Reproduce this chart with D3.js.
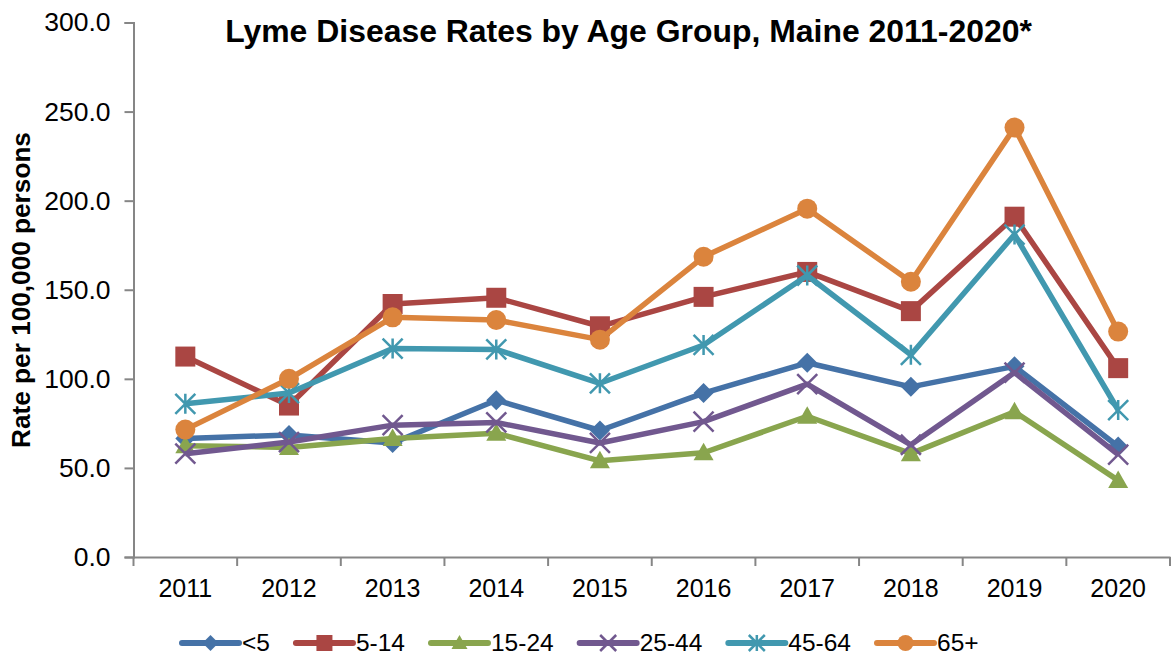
<!DOCTYPE html>
<html><head><meta charset="utf-8">
<script src="https://cdn.jsdelivr.net/npm/d3@7"></script>
<style>
body{margin:0;background:#fff;}
svg{display:block;font-family:"Liberation Sans",Arial,sans-serif;}
</style></head>
<body><svg id="c" width="1173" height="656"></svg>
<script>
const years = ["2011","2012","2013","2014","2015","2016","2017","2018","2019","2020"];
const seriesNames = ["<5","5-14","15-24","25-44","45-64","65+"];
const ageLt5 = [66.5, 68.5, 64, 88, 71, 92, 109, 95.5, 107, 62];
const age5to14 = [112.5, 85, 142, 145.5, 129.5, 146, 160, 138, 191, 106];
const age15to24 = [62.5, 61.5, 66.5, 69.5, 54, 58.5, 79, 58, 81.5, 43];
const age25to44 = [58, 64.5, 74, 75.5, 64, 76, 97, 63, 103.5, 57.5];
const age45to64 = [86, 92, 117, 116.5, 97.5, 119, 158, 113.5, 181, 82.5];
const age65plus = [71.5, 100, 134.5, 133, 122, 168.5, 195.5, 154.5, 241, 126.5];
const yTicks = [0, 50, 100, 150, 200, 250, 300];

const colors = ["#4572A7","#AA4643","#89A54E","#71588F","#4198AF","#DB843D"];
const markers = ["diamond","square","triangle","x","asterisk","circle"];
const seriesValues = [ageLt5, age5to14, age15to24, age25to44, age45to64, age65plus];

const svg = d3.select("#c");
const x = d3.scaleBand().domain(years).range([133.5, 1170]).padding(0);
const y = d3.scaleLinear().domain([0, 300]).range([557, 22.5]);
const axisColor = "#868686";

// Y axis
const ya = svg.append("g").attr("transform","translate(133.5,0)")
  .call(d3.axisLeft(y).tickValues(yTicks).tickFormat(d3.format(".1f")).tickSize(9).tickPadding(14));
ya.select(".domain").attr("stroke",axisColor).attr("stroke-width",2);
ya.selectAll(".tick line").attr("stroke",axisColor).attr("stroke-width",2);
ya.selectAll(".tick text").attr("font-size","26.5px").attr("fill","#000")
  .attr("font-family","'Liberation Sans',Arial,sans-serif");

// X axis
const xa = svg.append("g").attr("transform","translate(0,557)")
  .call(d3.axisBottom(x).tickSize(0).tickPadding(0));
xa.select(".domain").attr("stroke",axisColor).attr("stroke-width",2);
xa.selectAll(".tick text").attr("font-size","25px").attr("fill","#000")
  .attr("font-family","'Liberation Sans',Arial,sans-serif").attr("dy",null).attr("y",40);
// boundary ticks
const bounds = years.map(d => x(d)).concat([x.range()[1]]);
svg.append("g").selectAll("line").data(bounds).join("line")
  .attr("x1",d=>d).attr("x2",d=>d).attr("y1",557).attr("y2",566)
  .attr("stroke",axisColor).attr("stroke-width",2);

function markerPath(type, s){
  const h = s/2;
  switch(type){
    case "diamond": return `M0,${-h}L${h},0L0,${h}L${-h},0Z`;
    case "square": return `M${-h},${-h}H${h}V${h}H${-h}Z`;
    case "triangle": return `M0,${-h}L${h},${h*0.75}L${-h},${h*0.75}Z`;
    case "x": return `M${-h},${-h}L${h},${h}M${h},${-h}L${-h},${h}`;
    case "asterisk": return `M${-h},${-h}L${h},${h}M${h},${-h}L${-h},${h}M0,${-h}V${h}`;
    case "circle": return d3.symbol(d3.symbolCircle, Math.PI*h*h)();
  }
}
function drawMarker(g, type, color, s){
  const p = g.append("path").attr("d", markerPath(type, s));
  if(type==="x"||type==="asterisk"){
    p.attr("fill","none").attr("stroke",color).attr("stroke-width",2.5);
  } else p.attr("fill",color);
}

const line = d3.line().x((d,i)=>x(years[i])+x.bandwidth()/2).y(d=>y(d));
const plot = svg.append("g");
seriesValues.forEach((vals, si)=>{
  const g = plot.append("g");
  g.append("path").attr("d", line(vals)).attr("fill","none")
    .attr("stroke",colors[si]).attr("stroke-width",5.5).attr("stroke-linejoin","round");
  vals.forEach((v,i)=>{
    const m = g.append("g").attr("transform",`translate(${x(years[i])+x.bandwidth()/2},${y(v)})`);
    drawMarker(m, markers[si], colors[si], 20);
  });
});

// Title
const title = svg.append("text").attr("x",628.5).attr("y",41.5).attr("text-anchor","middle")
  .attr("font-weight","bold").attr("font-size","29px").attr("fill","#000")
  .text("Lyme Disease Rates by Age Group, Maine 2011-2020*");
let tw = title.node().getComputedTextLength();
title.attr("font-size", (29*807/tw).toFixed(2)+"px");

// Y label
const yl = svg.append("text").attr("transform","translate(30,290) rotate(-90)")
  .attr("text-anchor","middle").attr("font-weight","bold").attr("font-size","21px").attr("fill","#000")
  .text("Rate per 100,000 persons");
let yw = yl.node().getComputedTextLength();
yl.attr("font-size", (21*316/yw).toFixed(2)+"px");

// Legend
const legend = svg.append("g");
let lx = 182;
seriesNames.forEach((name, si)=>{
  const g = legend.append("g").attr("transform",`translate(${lx},643)`);
  g.append("line").attr("x1",0).attr("x2",57).attr("y1",0).attr("y2",0)
    .attr("stroke",colors[si]).attr("stroke-width",6).attr("stroke-linecap","round");
  const m = g.append("g").attr("transform","translate(28.5,0)");
  drawMarker(m, markers[si], colors[si], 16);
  const t = g.append("text").attr("x",60).attr("y",7.5).attr("font-size","24.5px").attr("fill","#000").text(name);
  lx += 60 + t.node().getComputedTextLength() + 26;
});
</script></body></html>
